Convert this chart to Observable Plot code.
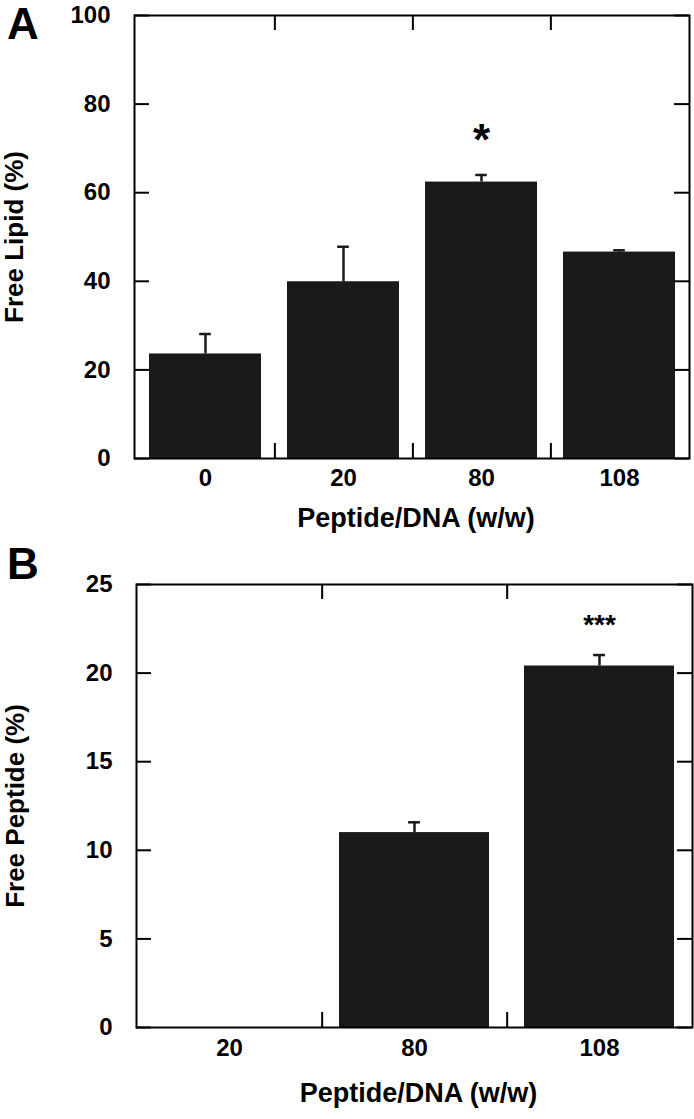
<!DOCTYPE html>
<html><head><meta charset="utf-8">
<script src="https://cdn.jsdelivr.net/npm/d3@7"></script>
<script src="https://cdn.jsdelivr.net/npm/@observablehq/plot@0.6"></script>
<style>
body{margin:0;background:#fff;}
#wrap{position:relative;width:694px;height:1119px;font-family:"Liberation Sans",Arial,sans-serif;font-weight:bold;}
.panel{position:absolute;left:0;}
.letter{position:absolute;left:7px;font-size:44px;line-height:44px;font-weight:bold;color:#000;}
</style></head><body>
<div id="wrap">
  <div id="A" class="panel" style="top:0px"></div>
  <div id="B" class="panel" style="top:545px"></div>
  <div class="letter" style="top:2px">A</div>
  <div class="letter" style="top:542px">B</div>
</div>
<script>
// Panel A data
const catsA = ["0", "20", "80", "108"];
const valuesA = [23.6, 39.9, 62.4, 46.6];
const errorsA = [4.5, 7.9, 1.6, 0.4];
const starsA = ["", "", "*", ""];
const yTicksA = [0, 20, 40, 60, 80, 100];
const yLabelA = "Free Lipid (%)";

// Panel B data
const catsB = ["20", "80", "108"];
const valuesB = [0, 11.0, 20.4];
const errorsB = [null, 0.58, 0.62];
const starsB = ["", "", "***"];
const yTicksB = [0, 5, 10, 15, 20, 25];
const yLabelB = "Free Peptide (%)";

const xLabel = "Peptide/DNA (w/w)";

function panel(o) {
  const width = 694;
  const data = o.cats.map((c, i) => ({cat: c, value: o.values[i], err: o.errors[i], star: o.stars[i]}));
  const withErr = data.filter(d => d.err != null);
  const plotW = width - o.ml - o.mr, plotH = o.height - o.mt - o.mb;
  const pi = 0.19, step = plotW / o.cats.length, bw = step * (1 - pi);
  const tick = 15, cap = 12;
  const capInset = (bw - cap) / 2;
  const bounds = o.cats.slice(0, -1);
  return Plot.plot({
    width, height: o.height,
    marginTop: o.mt, marginBottom: o.mb, marginLeft: o.ml, marginRight: o.mr,
    style: {fontFamily: "'Liberation Sans', Arial, sans-serif", fontWeight: "bold", color: "#000", background: "#fff", overflow: "visible"},
    x: {domain: o.cats, paddingInner: pi, paddingOuter: pi / 2},
    y: {domain: o.yDomain},
    marks: [
      Plot.barY(data, {x: "cat", y: "value", fill: "#1a1a1a"}),
      Plot.ruleX(withErr, {x: "cat", y1: "value", y2: d => d.value + d.err, stroke: "#1a1a1a", strokeWidth: 2.5}),
      Plot.tickY(withErr, {x: "cat", y: d => d.value + d.err, insetLeft: capInset, insetRight: capInset, stroke: "#1a1a1a", strokeWidth: 2.5}),
      Plot.frame({stroke: "#000", strokeWidth: 2}),
      Plot.ruleY(o.yTicks, {y: d => d, insetRight: plotW - tick, stroke: "#000", strokeWidth: 2}),
      Plot.ruleY(o.yTicks, {y: d => d, insetLeft: plotW - tick, stroke: "#000", strokeWidth: 2}),
      Plot.ruleX(bounds, {x: d => d, dx: step / 2, insetTop: plotH - tick, stroke: "#000", strokeWidth: 2}),
      Plot.ruleX(bounds, {x: d => d, dx: step / 2, insetBottom: plotH - tick, stroke: "#000", strokeWidth: 2}),
      Plot.axisY({ticks: o.yTicks, tickSize: 0, tickPadding: 24, fontSize: 24, tickFormat: d => String(d), label: null}),
      Plot.axisX({tickSize: 0, tickPadding: o.xPad, fontSize: 24, label: null}),
      Plot.text(data.filter(d => d.star), {x: "cat", y: d => d.value + (d.err || 0), text: "star", dy: o.starDy, fontSize: o.starSize, fill: "#000"}),
      Plot.text([xLabel], {frameAnchor: "bottom", dy: o.xLabDy, dx: 4, fontSize: 27, textAnchor: "middle", text: d => d, fill: "#000"}),
      Plot.text([o.yLabel], {frameAnchor: "left", dx: o.yLabDx, rotate: -90, fontSize: 26, textAnchor: "middle", text: d => d, fill: "#000"})
    ]
  });
}

document.getElementById("A").append(panel({
  cats: catsA, values: valuesA, errors: errorsA, stars: starsA, yTicks: yTicksA,
  yDomain: [0, 100], yLabel: yLabelA, height: 545, mt: 15, mb: 87, ml: 134, mr: 5,
  xPad: 10, xLabDy: 68, yLabDx: -120, starSize: 44, starDy: -34
}));
document.getElementById("B").append(panel({
  cats: catsB, values: valuesB, errors: errorsB, stars: starsB, yTicks: yTicksB,
  yDomain: [0, 25], yLabel: yLabelB, height: 574, mt: 39, mb: 92, ml: 136, mr: 2,
  xPad: 11, xLabDy: 74, yLabDx: -121, starSize: 28, starDy: -30
}));
</script>
</body></html>
